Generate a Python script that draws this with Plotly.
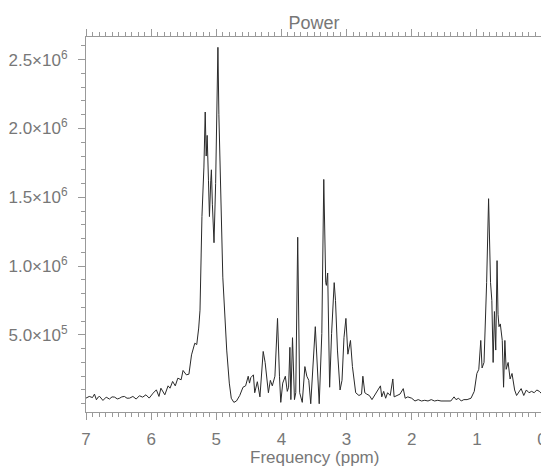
import plotly.graph_objects as go

# chemical shift (ppm) and power
ppm = [
    7.00, 6.95, 6.90, 6.87, 6.84, 6.81, 6.79, 6.74, 6.69, 6.64, 6.60, 6.56, 6.52, 6.49,
    6.45, 6.41, 6.37, 6.33, 6.28, 6.23, 6.18, 6.13, 6.08, 6.03, 5.97, 5.92, 5.88, 5.85,
    5.79, 5.74, 5.71, 5.67, 5.63, 5.59, 5.54, 5.51, 5.46, 5.42, 5.38, 5.33, 5.30, 5.27,
    5.25, 5.22, 5.19, 5.17, 5.155, 5.14, 5.12, 5.105, 5.085, 5.075, 5.06, 5.035, 5.01,
    4.99, 4.975, 4.96, 4.94, 4.90, 4.84, 4.80, 4.77, 4.73, 4.69, 4.64, 4.59, 4.55, 4.51,
    4.49, 4.47, 4.43, 4.41, 4.37, 4.33, 4.28, 4.25, 4.20, 4.17, 4.14, 4.10, 4.06, 4.03,
    4.01, 3.98, 3.94, 3.91, 3.89, 3.87, 3.855, 3.83, 3.80, 3.78, 3.75, 3.72, 3.68, 3.64,
    3.61, 3.58, 3.55, 3.48, 3.46, 3.42, 3.38, 3.35, 3.32, 3.31, 3.29, 3.26, 3.23, 3.19,
    3.17, 3.14, 3.10, 3.07, 3.04, 3.01, 2.98, 2.94, 2.91, 2.86, 2.81, 2.77, 2.75, 2.72,
    2.69, 2.65, 2.61, 2.57, 2.53, 2.48, 2.46, 2.43, 2.40, 2.37, 2.33, 2.29, 2.27, 2.23,
    2.18, 2.13, 2.10, 2.06, 2.00, 1.95, 1.90, 1.85, 1.80, 1.75, 1.70, 1.65, 1.60, 1.55,
    1.50, 1.45, 1.40, 1.35, 1.32, 1.28, 1.24, 1.20, 1.15, 1.09, 1.04, 1.00, 0.97, 0.94,
    0.92, 0.89, 0.85, 0.82, 0.79, 0.77, 0.75, 0.73, 0.71, 0.69, 0.675, 0.66, 0.64, 0.61,
    0.59, 0.57, 0.55, 0.52, 0.49, 0.46, 0.42, 0.39, 0.36, 0.32, 0.28, 0.24, 0.20, 0.16,
    0.12, 0.08, 0.04, 0.00,
]
power_e6 = [
    0.041, 0.053, 0.045, 0.070, 0.029, 0.050, 0.053, 0.024, 0.048, 0.034, 0.050, 0.048, 0.035, 0.039,
    0.050, 0.053, 0.040, 0.041, 0.053, 0.034, 0.058, 0.048, 0.065, 0.041, 0.077, 0.101, 0.053, 0.113,
    0.065, 0.130, 0.113, 0.162, 0.130, 0.186, 0.174, 0.242, 0.210, 0.215, 0.355, 0.440, 0.430, 0.55,
    0.68, 1.36, 1.72, 2.12, 1.80, 1.95, 1.62, 1.36, 1.62, 1.70, 1.45, 1.17, 1.60,
    2.35, 2.59, 2.10, 1.70, 0.92, 0.39, 0.15, 0.04, 0.01, 0.02, 0.06, 0.12, 0.13, 0.20,
    0.15, 0.19, 0.21, 0.08, 0.16, 0.05, 0.38, 0.30, 0.08, 0.17, 0.13, 0.20, 0.62, 0.20,
    0.01, 0.15, 0.20, 0.09, 0.12, 0.41, 0.03, 0.48, 0.03, 0.08, 1.21, 0.08, 0.01, 0.27,
    0.20, 0.17, 0.00, 0.56, 0.33, 0.00, 0.51, 1.63, 0.88, 0.86, 0.95, 0.12, 0.51, 0.88,
    0.75, 0.39, 0.10, 0.17, 0.48, 0.62, 0.36, 0.46, 0.27, 0.08, 0.06, 0.07, 0.20, 0.08,
    0.07, 0.06, 0.03, 0.06, 0.10, 0.13, 0.05, 0.09, 0.04, 0.08, 0.06, 0.18, 0.05, 0.06,
    0.07, 0.11, 0.04, 0.05, 0.04, 0.02, 0.03, 0.02, 0.025, 0.02, 0.03, 0.02, 0.025, 0.02,
    0.02, 0.015, 0.02, 0.05, 0.03, 0.04, 0.02, 0.03, 0.03, 0.04, 0.09, 0.22, 0.25, 0.46,
    0.26, 0.30, 0.88, 1.49, 0.88, 0.75, 0.30, 0.67, 0.39, 1.04, 0.65, 0.56, 0.58, 0.46,
    0.12, 0.46, 0.25, 0.30, 0.18, 0.22, 0.10, 0.06, 0.08, 0.11, 0.06, 0.10, 0.08, 0.09,
    0.08, 0.10, 0.09, 0.07,
]
power = [v * 1e6 for v in power_e6]

y_tickvals = [5e5, 1e6, 1.5e6, 2e6, 2.5e6]
y_ticktext = ["5.0×10<sup>5</sup>", "1.0×10<sup>6</sup>", "1.5×10<sup>6</sup>",
              "2.0×10<sup>6</sup>", "2.5×10<sup>6</sup>"]
x_tickvals = [7, 6, 5, 4, 3, 2, 1, 0]

FONT = "Liberation Sans"
GREY = "#777"
AXIS = "#999"

fig = go.Figure(go.Scatter(
    x=ppm, y=power, mode="lines",
    line=dict(color="#2a2a2a", width=1),
    hoverinfo="skip",
))

axis_common = dict(
    showline=True, linecolor=AXIS, linewidth=1, mirror="allticks",
    ticks="outside", tickcolor=AXIS, ticklen=7, tickwidth=1,
    showgrid=False, zeroline=False, automargin=False,
    tickfont=dict(family=FONT, size=17, color=GREY),
)

# page body has an 8px margin, so the figure is sized to fit the window after it
fig.update_layout(
    width=541, height=459,
    margin=dict(l=78, r=7, t=29, b=55),
    paper_bgcolor="white", plot_bgcolor="white",
    showlegend=False,
    title=dict(text="Power", xref="paper", x=0.5, xanchor="center", y=1 - 15 / 459, yanchor="middle",
               font=dict(family=FONT, size=18, color=GREY)),
    xaxis=dict(
        range=[7, 0], tickmode="array", tickvals=x_tickvals,
        minor=dict(tickmode="linear", tick0=0, dtick=0.1, ticks="outside", ticklen=4,
                   tickcolor=AXIS, showgrid=False),
        ticklabelstandoff=5,
        **axis_common,
    ),
    yaxis=dict(
        range=[-0.06e6, 2.665e6], tickmode="array", tickvals=y_tickvals, ticktext=y_ticktext,
        minor=dict(tickmode="linear", tick0=0, dtick=1e5, ticks="outside", ticklen=4,
                   tickcolor=AXIS, showgrid=False),
        ticklabelstandoff=7,
        **axis_common,
    ),
    annotations=[dict(
        text="Frequency (ppm)", xref="paper", yref="paper", x=0.5, y=-45 / 375,
        xanchor="center", yanchor="middle", showarrow=False,
        font=dict(family=FONT, size=17, color=GREY),
    )],
)

fig.write_html("out.html")
